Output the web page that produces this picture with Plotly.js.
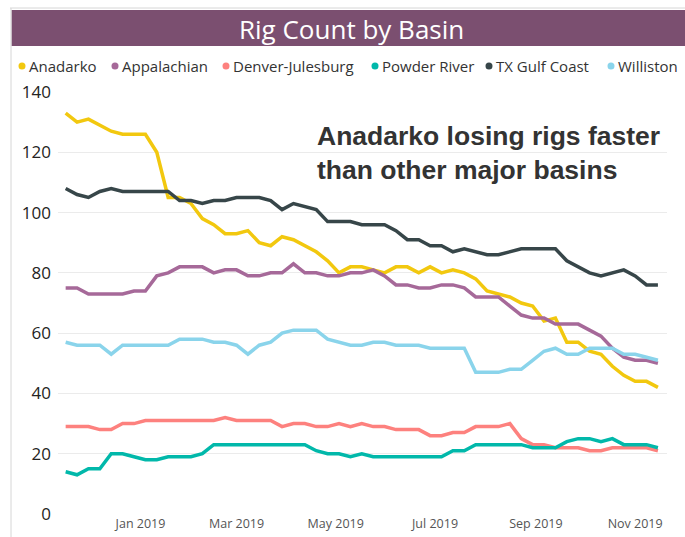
<!DOCTYPE html>
<html>
<head>
<meta charset="utf-8">
<script src="https://cdn.plot.ly/plotly-3.0.1.min.js"></script>
<style>
  html, body { margin: 0; padding: 0; background: #fff; }
  #chart { width: 685px; height: 537px; }
</style>
</head>
<body>
<div id="chart"></div>
<script>
// Weekly report dates (Fridays)
const dates = [
  '2018-11-16','2018-11-23','2018-11-30','2018-12-07','2018-12-14','2018-12-21','2018-12-28',
  '2019-01-04','2019-01-11','2019-01-18','2019-01-25',
  '2019-02-01','2019-02-08','2019-02-15','2019-02-22',
  '2019-03-01','2019-03-08','2019-03-15','2019-03-22','2019-03-29',
  '2019-04-05','2019-04-12','2019-04-19','2019-04-26',
  '2019-05-03','2019-05-10','2019-05-17','2019-05-24','2019-05-31',
  '2019-06-07','2019-06-14','2019-06-21','2019-06-28',
  '2019-07-05','2019-07-12','2019-07-19','2019-07-26',
  '2019-08-02','2019-08-09','2019-08-16','2019-08-23','2019-08-30',
  '2019-09-06','2019-09-13','2019-09-20','2019-09-27',
  '2019-10-04','2019-10-11','2019-10-18','2019-10-25',
  '2019-11-01','2019-11-08','2019-11-15'
];

const anadarko = [133,130,131,129,127,126,126,126,120,105,105,103,98,96,93,93,94,90,89,92,91,89,87,84,80,82,82,81,80,82,82,80,82,80,81,80,78,74,73,72,70,69,64,65,57,57,54,53,49,46,44,44,42];
const appalachian = [75,75,73,73,73,73,74,74,79,80,82,82,82,80,81,81,79,79,80,80,83,80,80,79,79,80,80,81,79,76,76,75,75,76,76,75,72,72,72,69,66,65,65,63,63,63,61,59,55,52,51,51,50];
const denverJulesburg = [29,29,29,28,28,30,30,31,31,31,31,31,31,31,32,31,31,31,31,29,30,30,29,29,30,29,30,29,29,28,28,28,26,26,27,27,29,29,29,30,25,23,23,22,22,22,21,21,22,22,22,22,21];
const powderRiver = [14,13,15,15,20,20,19,18,18,19,19,19,20,23,23,23,23,23,23,23,23,23,21,20,20,19,20,19,19,19,19,19,19,19,21,21,23,23,23,23,23,22,22,22,24,25,25,24,25,23,23,23,22];
const txGulfCoast = [108,106,105,107,108,107,107,107,107,107,104,104,103,104,104,105,105,105,104,101,103,102,101,97,97,97,96,96,96,94,91,91,89,89,87,88,87,86,86,87,88,88,88,88,84,82,80,79,80,81,79,76,76];
const williston = [57,56,56,56,53,56,56,56,56,56,58,58,58,57,57,56,53,56,57,60,61,61,61,58,57,56,56,57,57,56,56,56,55,55,55,55,47,47,47,48,48,51,54,55,53,53,55,55,55,53,53,52,51];

const seriesNames = ['Anadarko','Appalachian','Denver-Julesburg','Powder River','TX Gulf Coast','Williston'];
const seriesValues = [anadarko, appalachian, denverJulesburg, powderRiver, txGulfCoast, williston];
const seriesColors = ['#F2C80F','#A66999','#FD817E','#01B8AA','#374649','#8AD4EB'];

const xTickVals = ['2019-01-01','2019-03-01','2019-05-01','2019-07-01','2019-09-01','2019-11-01'];
const xTickText = ['Jan 2019','Mar 2019','May 2019','Jul 2019','Sep 2019','Nov 2019'];

const W = 685, H = 537;
const M = {l: 58, r: 18, t: 92, b: 23};
const PW = W - M.l - M.r, PH = H - M.t - M.b;
const px = x => (x - M.l) / PW;
const py = y => (H - M.b - y) / PH;

const traces = seriesNames.map((n, k) => ({
  type: 'scatter', mode: 'lines', name: n, x: dates, y: seriesValues[k],
  line: {color: seriesColors[k], width: 3.5, shape: 'linear'},
  showlegend: false, hoverinfo: 'x+y+name'
}));

// Legend drawn as annotations + dots
const legendDotX = [22, 115, 226, 375, 489, 611];
const legendY = 66;
const shapes = [];
const annotations = [];

// frame border
shapes.push({type:'line', xref:'paper', yref:'paper', x0:px(10), x1:px(685), y0:py(8), y1:py(8), line:{color:'#d6d6d6', width:1}});
shapes.push({type:'line', xref:'paper', yref:'paper', x0:px(11), x1:px(11), y0:py(8), y1:py(537), line:{color:'#d6d6d6', width:1}});
// title bar
shapes.push({type:'rect', xref:'paper', yref:'paper', x0:px(11.5), x1:px(686), y0:py(46), y1:py(10), fillcolor:'#7B4F70', line:{width:0}, layer:'below'});

annotations.push({xref:'paper', yref:'paper', x:px(351), y:py(29), xanchor:'center', yanchor:'middle',
  text:'Rig Count by Basin', showarrow:false, font:{family:'Open Sans, Noto Sans, sans-serif', size:26, color:'#ffffff'}});

seriesNames.forEach((n, k) => {
  const cx = legendDotX[k];
  shapes.push({type:'circle', xref:'paper', yref:'paper', x0:px(cx-3.5), x1:px(cx+3.5), y0:py(legendY+3.5), y1:py(legendY-3.5),
    fillcolor: seriesColors[k], line:{width:0}});
  annotations.push({xref:'paper', yref:'paper', x:px(cx+5), y:py(legendY), xanchor:'left', yanchor:'middle',
    text:n, showarrow:false, font:{family:'Open Sans, Noto Sans, sans-serif', size:15, color:'#333333'}});
});

annotations.push({xref:'paper', yref:'paper', x:px(315), y:py(153), xanchor:'left', yanchor:'middle', align:'left',
  text:'<b>Anadarko losing rigs faster<br>than other major basins</b>', showarrow:false,
  font:{family:'Liberation Sans, Arial, sans-serif', size:26.5, color:'#333333'}});

const layout = {
  width: W, height: H,
  margin: M,
  paper_bgcolor: '#ffffff', plot_bgcolor: '#ffffff',
  showlegend: false,
  xaxis: {
    type: 'date', range: ['2018-11-11 07:00', '2019-11-20 14:00'],
    tickvals: xTickVals, ticktext: xTickText,
    showgrid: false, zeroline: false, showline: false, ticks: '',
    tickfont: {family: 'Open Sans, Noto Sans, sans-serif', size: 12.5, color: '#555555'}
  },
  yaxis: {
    range: [0, 140], tickvals: [0,20,40,60,80,100,120,140],
    showgrid: true, gridcolor: '#ebebeb', gridwidth: 1, zeroline: false, showline: false, ticks: '',
    ticklabelstandoff: 6,
    tickfont: {family: 'Open Sans, Noto Sans, sans-serif', size: 17, color: '#252423'}
  },
  shapes: shapes,
  annotations: annotations
};

Plotly.newPlot('chart', traces, layout, {displayModeBar: false, staticPlot: true});
</script>
</body>
</html>
